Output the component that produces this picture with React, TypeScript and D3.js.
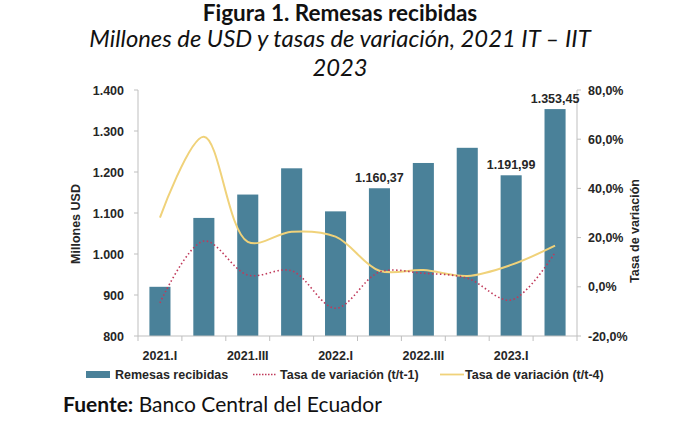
import React from "react";
import * as d3 from "d3";

const quarters = ["2021.I","2021.II","2021.III","2021.IV","2022.I","2022.II","2022.III","2022.IV","2023.I","2023.II"];
const remesas = [920, 1088, 1145, 1209, 1104, 1160.37, 1222, 1259, 1191.99, 1353.45];
const tasaT1 = [-6.5, 18.6, 4.8, 6.5, -8.7, 6.0, 5.5, 3.5, -5.4, 13.9];
const tasaT4 = [28.1, 61.0, 18.3, 22.4, 20.4, 6.5, 6.8, 4.4, 8.9, 16.7];
const leftTicks = [800, 900, 1000, 1100, 1200, 1300, 1400];
const rightTicks = [-20, 0, 20, 40, 60, 80];
const labeledIdx = [5, 8, 9];

const W = 680, H = 433;
const BAR = "#4A8199";
const YEL = "#F0D27A";
const RED = "#C0395A";
const AX = "#BFBFBF";
const TXT = "#262626";
const CF = "'Liberation Sans', Arial, sans-serif";
const TF = "Lato, 'Open Sans', sans-serif";

const fmtL = (v: number) => d3.format(",")(v).replace(/,/g, ".");
const fmtR = (v: number) => v.toFixed(1).replace(".", ",") + "%";
const fmtD = (v: number) => {
  const s = d3.format(",.2f")(v);
  return s.replace(/,/g, "#").replace(".", ",").replace(/#/g, ".");
};

export default function App() {
  const x = d3.scaleBand<string>().domain(quarters).range([138, 577]).paddingInner(0.52).paddingOuter(0.26);
  const yL = d3.scaleLinear().domain([800, 1400]).range([336, 90]);
  const yR = d3.scaleLinear().domain([-20, 80]).range([336, 90]);
  const cx = (i: number) => (x(quarters[i]) as number) + x.bandwidth() / 2;
  const line = d3.line<number>().x((_, i) => cx(i)).y((d) => yR(d)).curve(d3.curveCatmullRom.alpha(0.5));
  const bounds = d3.range(quarters.length + 1).map((i) => x.range()[0] + i * x.step());
  const y0 = yL(800);

  return (
    <svg width={W} height={H} style={{ position: "absolute", left: 0, top: 0, background: "#fff" }}>
      <text x={340} y={21} textAnchor="middle" fontFamily={TF} fontWeight={700} fontSize={22.5} fill="#111">Figura 1. Remesas recibidas</text>
      <text x={340} y={47} textAnchor="middle" fontFamily={TF} fontStyle="italic" fontSize={23.8} fill="#111">Millones de USD y tasas de variación, 2021 IT – IIT</text>
      <text x={340} y={76} textAnchor="middle" fontFamily={TF} fontStyle="italic" fontSize={23.8} fill="#111">2023</text>

      {remesas.map((v, i) => (
        <rect key={i} x={x(quarters[i])} y={yL(v)} width={x.bandwidth()} height={y0 - yL(v)} fill={BAR} />
      ))}

      <path d={line(tasaT4) || ""} fill="none" stroke={YEL} strokeWidth={2} />
      <path d={line(tasaT1) || ""} fill="none" stroke={RED} strokeWidth={1.6} strokeDasharray="1.5 2.5" />

      {/* axes */}
      <line x1={138} x2={138} y1={90} y2={y0} stroke={AX} />
      <line x1={577} x2={577} y1={90} y2={y0} stroke={AX} />
      <line x1={138} x2={577} y1={y0} y2={y0} stroke={AX} />
      {bounds.map((b, i) => (
        <line key={i} x1={b} x2={b} y1={y0} y2={y0 + 5} stroke={AX} />
      ))}
      {leftTicks.map((t) => (
        <g key={t}>
          <line x1={134} x2={138} y1={yL(t)} y2={yL(t)} stroke={AX} />
          <text x={124} y={yL(t) + 4.5} textAnchor="end" fontFamily={CF} fontWeight={700} fontSize={12.5} fill={TXT}>{fmtL(t)}</text>
        </g>
      ))}
      {rightTicks.map((t) => (
        <g key={t}>
          <line x1={577} x2={581} y1={yR(t)} y2={yR(t)} stroke={AX} />
          <text x={588} y={yR(t) + 4.5} textAnchor="start" fontFamily={CF} fontWeight={700} fontSize={12.5} fill={TXT}>{fmtR(t)}</text>
        </g>
      ))}
      {quarters.map((q, i) => (i % 2 === 0 ? (
        <text key={q} x={cx(i)} y={360} textAnchor="middle" fontFamily={CF} fontWeight={700} fontSize={12.5} fill={TXT}>{q}</text>
      ) : null))}

      {labeledIdx.map((i) => (
        <text key={i} x={cx(i)} y={yL(remesas[i]) - 6} textAnchor="middle" fontFamily={CF} fontWeight={700} fontSize={12.5} fill={TXT}>{fmtD(remesas[i])}</text>
      ))}

      <text transform={`translate(80,224) rotate(-90)`} textAnchor="middle" fontFamily={CF} fontWeight={700} fontSize={12.5} fill={TXT}>Millones USD</text>
      <text transform={`translate(639,231) rotate(-90)`} textAnchor="middle" fontFamily={CF} fontWeight={700} fontSize={12.5} fill={TXT}>Tasa de variación</text>

      {/* legend */}
      <rect x={86} y={371} width={24} height={7} fill={BAR} />
      <text x={115} y={379} fontFamily={CF} fontWeight={700} fontSize={12.5} fill={TXT}>Remesas recibidas</text>
      <line x1={253} x2={276} y1={374.5} y2={374.5} stroke={RED} strokeWidth={1.4} strokeDasharray="1.5 1.5" />
      <text x={280} y={379} fontFamily={CF} fontWeight={700} fontSize={12.5} fill={TXT}>Tasa de variación (t/t-1)</text>
      <line x1={440} x2={464} y1={374.5} y2={374.5} stroke={YEL} strokeWidth={1.8} />
      <text x={465} y={379} fontFamily={CF} fontWeight={700} fontSize={12.5} fill={TXT}>Tasa de variación (t/t-4)</text>

      <text x={63} y={412} fontFamily={TF} fontSize={21} fill="#111">
        <tspan fontWeight={700}>Fuente:</tspan> Banco Central del Ecuador
      </text>
    </svg>
  );
}
